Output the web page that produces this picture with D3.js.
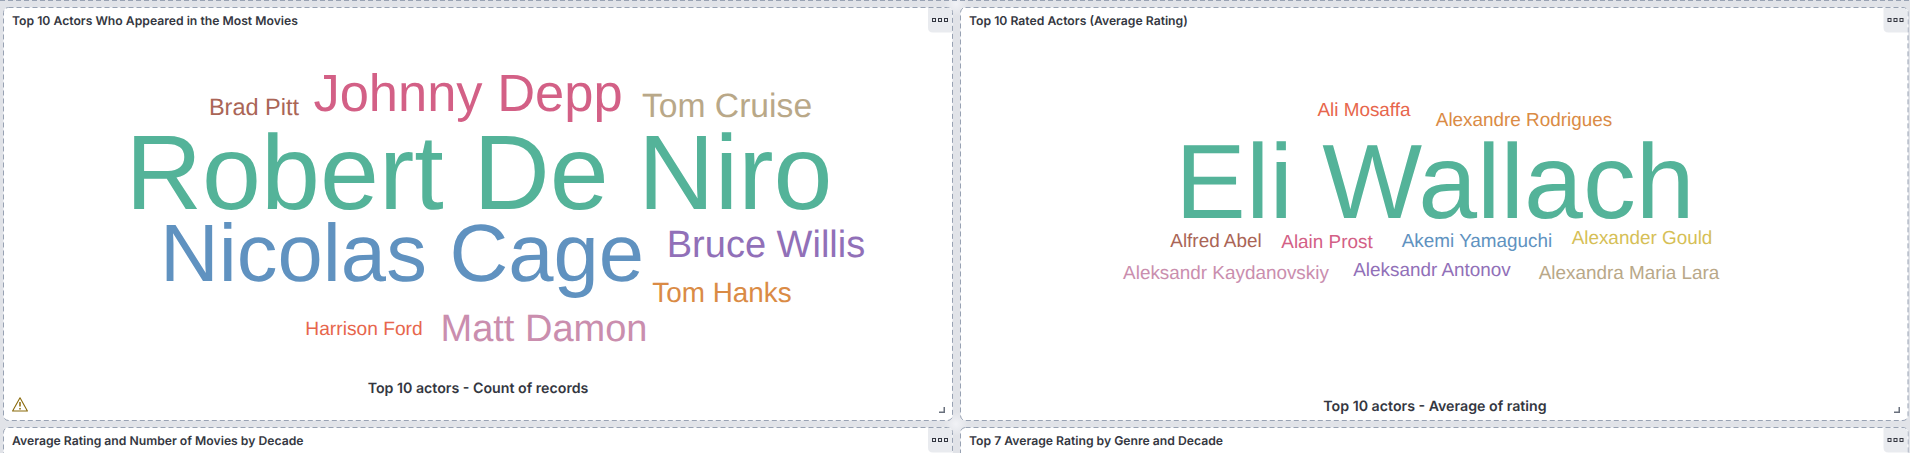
<!DOCTYPE html>
<html><head><meta charset="utf-8">
<script src="https://cdn.jsdelivr.net/npm/d3@7/dist/d3.min.js"></script>
<style>
html,body{margin:0;padding:0;background:#fff;overflow:hidden}
svg{display:block}
text{font-kerning:normal;text-rendering:geometricPrecision}
</style></head><body><div id="c"></div>
<script>
// ---- data ----
const countActors = ["Robert De Niro","Nicolas Cage","Johnny Depp","Bruce Willis","Matt Damon","Tom Cruise","Tom Hanks","Brad Pitt","Harrison Ford"];
const countValues = [80,63,43,33,33,30,26,23,20];
const countColorRank = [0,1,2,3,4,6,7,8,9];
const ratingActors = ["Eli Wallach","Akemi Yamaguchi","Alain Prost","Aleksandr Antonov","Aleksandr Kaydanovskiy","Alexander Gould","Alexandra Maria Lara","Alexandre Rodrigues","Alfred Abel","Ali Mosaffa"];
const ratingValues = [5,4.5,4.5,4.5,4.5,4.5,4.5,4.5,4.5,4.5];
const ratingColorRank = [0,1,2,3,4,5,6,7,8,9];
const palette = ["#54B399","#6092C0","#D36086","#9170B8","#CA8EAE","#D6BF57","#B9A888","#DA8B45","#AA6556","#E7664C"];
const panelTitles = ["Top 10 Actors Who Appeared in the Most Movies","Top 10 Rated Actors (Average Rating)","Average Rating and Number of Movies by Decade","Top 7 Average Rating by Genre and Decade"];
const cloudCaptions = ["Top 10 actors - Count of records","Top 10 actors - Average of rating"];
// word-cloud layout result (word centre, baseline) — placement only, not data
const countPlacement = [[479,209],[402,281],[468,111],[766,257],[544,341],[727,117],[722,302],[254,115],[364,335]];
const ratingPlacement = [[1435,218],[1477,247],[1327,248],[1432,276],[1226,279],[1642,244],[1629,279],[1524,126],[1216,247],[1364,116]];

// ---- drawing ----
const W=1910,H=453;
const svg=d3.select("#c").append("svg").attr("width",W).attr("height",H);
const rg=svg.append("defs").append("radialGradient").attr("id","glow");
rg.append("stop").attr("offset",0).attr("stop-color","#f1f2f6");
rg.append("stop").attr("offset",1).attr("stop-color","#f1f2f6").attr("stop-opacity",0);
svg.append("rect").attr("width",W).attr("height",H).attr("fill","#e1e3e8");
[[956,4],[956,424]].forEach(([x,y])=>svg.append("circle").attr("cx",x).attr("cy",y).attr("r",12).attr("fill","url(#glow)"));

const panels=[{x:3.5,y:7.5,w:949,h:413},{x:960.5,y:7.5,w:947.5,h:413},{x:3.5,y:427.5,w:949,h:60},{x:960.5,y:427.5,w:947.5,h:60}];
svg.append("line").attr("x1",0).attr("x2",W).attr("y1",0.5).attr("y2",0.5).attr("stroke","#98a2b3").attr("stroke-dasharray","5 3");
const P=svg.selectAll("g.p").data(panels).join("g").attr("class","p");
P.append("rect").attr("x",d=>d.x).attr("y",d=>d.y).attr("width",d=>d.w).attr("height",d=>d.h).attr("rx",5)
 .attr("fill","#fff").attr("stroke","#98a2b3").attr("stroke-width",1).attr("stroke-dasharray","5 3");
P.append("path").attr("d",d=>{const x0=d.x+d.w-24.5,x1=d.x+d.w-0.5,y0=d.y+0.5,y1=d.y+25;return `M${x0} ${y0}H${x1-5}Q${x1} ${y0} ${x1} ${y0+5}V${y1}H${x0+5}Q${x0} ${y1} ${x0} ${y1-5}Z`}).attr("fill","#e9ebef");
[0,1,2].forEach(i=>P.append("rect").attr("x",d=>d.x+d.w-20+i*6).attr("y",d=>d.y+11).attr("width",3).attr("height",3).attr("fill","none").attr("stroke","#343741").attr("stroke-width",1));
P.data(panelTitles.map((t,i)=>({t,...panels[i]}))).append("text").attr("x",d=>d.x+8.5).attr("y",d=>d.y+17.5)
 .attr("font-family","Inter").attr("font-weight",600).attr("font-size",12.2).attr("fill","#343741").text(d=>d.t);

function cloud(names,vals,ranks,place,range){
  const size=d3.scaleLinear().domain(d3.extent(vals)).range(range);
  const color=d3.scaleOrdinal(d3.range(palette.length),palette);
  svg.append("g").selectAll("text").data(names).join("text")
    .attr("x",(d,i)=>place[i][0]).attr("y",(d,i)=>place[i][1])
    .attr("text-anchor","middle").attr("font-family","Liberation Sans")
    .attr("font-size",(d,i)=>size(vals[i])).attr("fill",(d,i)=>color(ranks[i])).text(d=>d);
}
cloud(countActors,countValues,countColorRank,countPlacement,[19.2,106]);
cloud(ratingActors,ratingValues,ratingColorRank,ratingPlacement,[18.9,105.8]);

svg.selectAll("text.cap").data(cloudCaptions).join("text").attr("class","cap")
  .attr("x",(d,i)=>[478,1435][i]).attr("y",(d,i)=>[393,411][i]).attr("text-anchor","middle")
  .attr("font-family","Inter").attr("font-weight",600).attr("font-size",14.2).attr("fill","#343741").text(d=>d);

[[945,413],[1900,413]].forEach(([x,y])=>svg.append("path").attr("d",`M${x-6} ${y-0.75}H${x-0.75}V${y-6}`).attr("fill","none").attr("stroke","#69707d").attr("stroke-width",1.5));
const w=svg.append("g").attr("transform","translate(12,397)").attr("fill","none").attr("stroke","#8a6a0a");
w.append("path").attr("d","M8 0.8L15.4 14H0.6Z").attr("stroke-width",1.1).attr("stroke-linejoin","round");
w.append("path").attr("d","M8 5V9.5M8 11V12.4").attr("stroke-width",1.5);
</script></body></html>
